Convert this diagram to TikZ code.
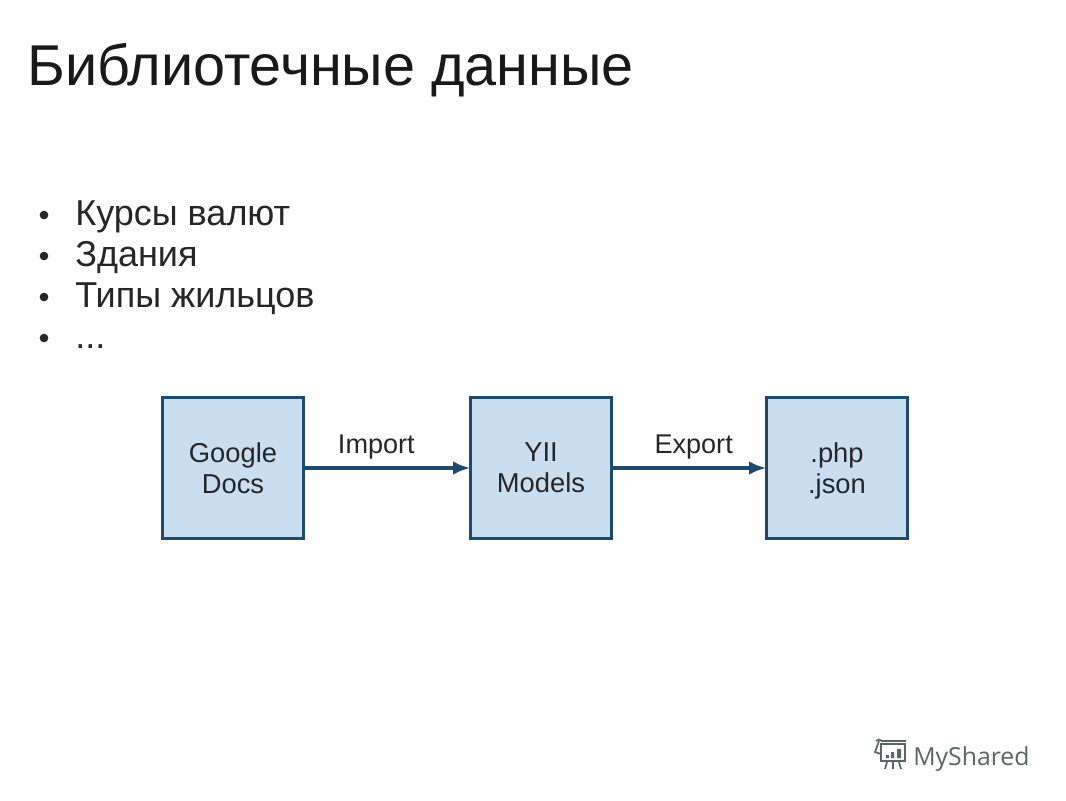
\documentclass[tikz,border=0pt]{standalone}
\usepackage{fontspec}
\setmainfont{Liberation Sans}
\newfontfamily\logofont{Open Sans}
\usetikzlibrary{arrows.meta,positioning}
\definecolor{boxfill}{HTML}{C9DEEF}
\definecolor{boxline}{HTML}{1F4A6E}
\definecolor{logogray}{HTML}{5A6663}
\newcommand{\boxsize}{105.5pt}
\begin{document}
\begin{tikzpicture}[x=.75pt,y=-.75pt]
\tikzstyle{title}=[anchor=base west,inner sep=0pt,font=\fontsize{43.2}{47}\selectfont,text=black!90]
\tikzstyle{item}=[anchor=base west,inner sep=0pt,font=\fontsize{27}{30}\selectfont,text=black!85]
\tikzstyle{dot}=[circle,fill=black!85,inner sep=0pt,minimum size=6.5pt]
\tikzstyle{block}=[draw=boxline,fill=boxfill,line width=2.2pt,minimum width=\boxsize,minimum height=\boxsize,align=center,font=\fontsize{20.5}{23.2}\selectfont,text=black!85]
\tikzstyle{flow}=[draw=boxline,line width=2.6pt,-{Latex[length=13pt,width=10pt]},shorten >=-1pt]
\tikzstyle{flowlabel}=[above,inner sep=0pt,font=\fontsize{20.3}{23}\selectfont,text=black!85]
\tikzstyle{logo}=[draw=logogray,line width=1.3pt]

\useasboundingbox (0,0) rectangle (1066,800);

\node (heading) [title] at (27,85) {Библиотечные данные};

\node (dotone) [dot] at (44,215) {};
\node (itemone) [item] at (75,225) {Курсы валют};
\node (dottwo) [dot] at (44,256) {};
\node (itemtwo) [item] at (75,266.5) {Здания};
\node (dotthree) [dot] at (44,297) {};
\node (itemthree) [item] at (75,307.5) {Типы жильцов};
\node (dotfour) [dot] at (44,338) {};
\node (itemfour) [item] at (75,348) {...};

\node (docs) [block] at (233,468) {Google\\Docs};
\node (models) [block] at (541,468) {YII\\Models};
\node (files) [block] at (837,468) {.php\\\smash{.json}};

\draw[flow] (docs) -- node (import) [flowlabel,xshift=-8pt,yshift=5pt] {Import} (models);
\draw[flow] (models) -- node (export) [flowlabel,xshift=3.5pt,yshift=5pt] {Export} (files);

% logo
\node (brand) [anchor=base west,inner sep=0pt,font=\logofont\fontsize{18.6}{22}\selectfont,text=logogray] at (913,765) {MyShared};
\draw[logo] (881,744) rectangle (905,761);
\draw[logo] (876,741) .. controls (878,739) and (880,739) .. (882,741) -- (906,741);
\draw[logo] (879,741) -- (875,752) -- (881,754);
\fill[logogray] (886,755) rectangle (889,758) (891,752) rectangle (894,758) (897,749) rectangle (901,758);
\draw[logo] (887,762) -- (885,769) (893,762) -- (893,769) (899,762) -- (901,769);
\end{tikzpicture}
\end{document}
